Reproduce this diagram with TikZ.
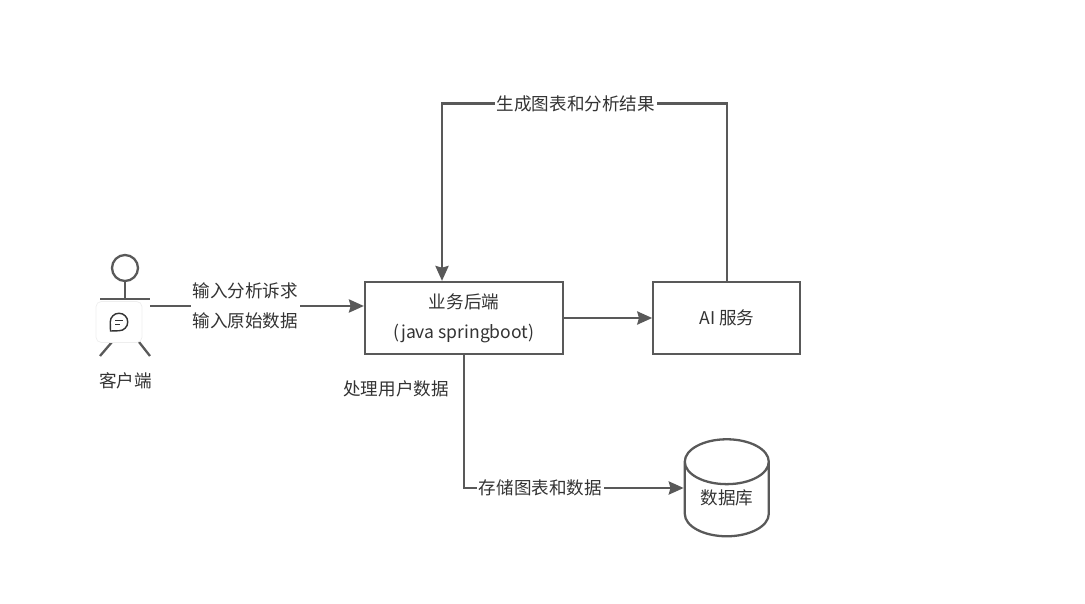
\documentclass[tikz,border=0pt]{standalone}
\usepackage{fontspec}
\setmainfont{Noto Sans CJK SC}
\usepackage{tikz}
\usetikzlibrary{
  shapes.geometric,
  arrows.meta,
  positioning, calc
}
\definecolor{lineGray}{RGB}{89,89,89}
\definecolor{textGray}{RGB}{51,51,51}
\definecolor{cardEdge}{RGB}{238,238,238}
\tikzset{
  basebox/.style={rectangle,draw=lineGray,line width=1.3pt,align=center,text=textGray,font=\fontsize{10}{17}\selectfont},
  backendnode/.style={basebox,minimum width=3.96cm,minimum height=1.44cm},
  ainode/.style={basebox,minimum width=2.94cm,minimum height=1.44cm},
  dbnode/.style={cylinder,shape border rotate=90,aspect=0.72,draw=lineGray,line width=1.3pt,
    font=\fontsize{9.6}{12}\selectfont,minimum width=1.68cm,minimum height=1.94cm},
  txtlabel/.style={text=textGray,align=center,inner sep=1pt,font=\fontsize{10}{17}\selectfont},
  edgelabel/.style={txtlabel,fill=white},
  arr/.style={-{Stealth[length=8.5pt,width=7.5pt,inset=1pt]},line width=1.3pt,color=lineGray},
  plainline/.style={line width=1.3pt,color=lineGray},
  cardnode/.style={rectangle,rounded corners=3pt,draw=cardEdge,fill=white,minimum width=0.92cm,minimum height=0.82cm}
}
\begin{document}
\begin{tikzpicture}
  \useasboundingbox (0,0) rectangle (21.7,12.06);

  % main boxes
  \node[backendnode] (backend) at (9.28,5.70) {业务后端\\(java springboot)};
  \node[ainode,right=1.76cm of backend] (ai) {AI 服务};
  \node[dbnode,below=1.66cm of ai] (db) {\phantom{数据库}};
  \node[txtlabel] (dblabel) at ($(db.center)+(0,0.14)$) {数据库};

  % client figure
  \node[circle,draw=lineGray,line width=1.3pt,minimum size=0.52cm,inner sep=0pt] (head) at (2.50,6.70) {};
  \coordinate (neck) at (2.50,6.08);
  \coordinate (armL) at (2.00,6.08);
  \coordinate (armR) at (3.00,6.08);
  \draw[plainline] (head.south) -- (neck);
  \draw[plainline] (armL) -- (armR);
  \draw[plainline] (2.24,5.22) -- (2.00,4.94);
  \draw[plainline] (2.78,5.22) -- (3.00,4.94);
  \node[cardnode] (card) at (2.38,5.62) {};
  % chat bubble on the card
  \draw[textGray,line width=0.8pt]
    (2.21,5.44) -- (2.205,5.62) arc[start angle=180,end angle=-90,radius=0.175] -- cycle;
  \draw[textGray,line width=0.8pt] (2.30,5.65) -- (2.46,5.65);
  \draw[textGray,line width=0.8pt] (2.30,5.57) -- (2.40,5.57);
  \node[txtlabel] (client) at (2.51,4.44) {客户端};

  % connectors
  \coordinate (clientout) at (3.00,5.94);
  \coordinate (topleft) at (8.84,9.99);
  \coordinate (dbturn) at (9.28,2.30);
  \draw[arr] (clientout) -- (clientout -| backend.west)
      node[edgelabel,pos=0.445] (reqlbl) {输入分析诉求\\输入原始数据};
  \draw[arr] (backend.east) -- (ai.west);
  \draw[arr] (ai.north) |- (topleft)
      node[edgelabel,pos=0.765] (reslbl) {生成图表和分析结果}
      -- (backend.north -| topleft);
  \draw[arr] (backend.south) |- (dbturn -| db.west)
      node[edgelabel,pos=0.674] (storelbl) {存储图表和数据};
  \node[txtlabel] (proclbl) at (7.92,4.28) {处理用户数据};
\end{tikzpicture}
\end{document}
